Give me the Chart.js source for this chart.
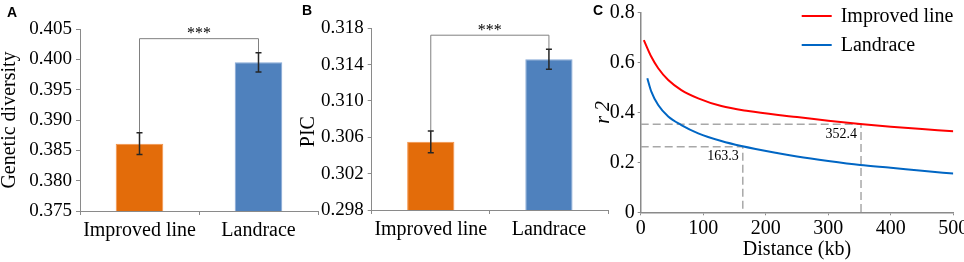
<!DOCTYPE html>
<html><head><meta charset="utf-8">
<script src="https://cdn.jsdelivr.net/npm/chart.js@4.4.1/dist/chart.umd.min.js"></script>
<style>
html,body{margin:0;padding:0;background:#fff;overflow:hidden;width:964px;height:262px}
.p{position:absolute;top:0;height:262px}
.lbl{position:absolute;font:bold 14px "Liberation Sans",Arial,sans-serif;line-height:14px;color:#000}
</style></head><body>
<div class="p" style="left:0;width:330px"><canvas id="cA" width="330" height="262"></canvas></div>
<div class="p" style="left:290px;width:330px"><canvas id="cB" width="330" height="262"></canvas></div>
<div class="p" style="left:590px;width:374px"><canvas id="cC" width="374" height="262"></canvas></div>
<div class="lbl" style="left:7px;top:5px">A</div>
<div class="lbl" style="left:302px;top:3px">B</div>
<div class="lbl" style="left:593px;top:3px">C</div>
<script>
// ---- data ----
const categories = ['Improved line', 'Landrace'];
const gdValues = [0.3861, 0.3995];
const gdErrors = [0.0018, 0.0016];
const picValues = [0.3055, 0.3146];
const picErrors = [0.0012, 0.0011];
const significance = '***';

const improvedDist = [5, 17, 28, 44, 65, 92, 129, 172, 220, 250, 300, 351, 400, 450, 500];
const improvedR2   = [0.689, 0.622, 0.576, 0.529, 0.489, 0.456, 0.425, 0.405, 0.389, 0.381, 0.366, 0.353, 0.342, 0.333, 0.324];
const landraceDist = [10.6, 17, 28, 44, 65, 92, 129, 161, 220, 250, 300, 351, 400, 450, 500];
const landraceR2   = [0.536, 0.483, 0.429, 0.383, 0.349, 0.316, 0.285, 0.265, 0.236, 0.223, 0.205, 0.189, 0.178, 0.166, 0.155];
const decayDist = [352.4, 163.3];
const decayR2   = [0.352, 0.262];

// ---- styles ----
const SERIF = '"Liberation Serif","Times New Roman",serif';
const AXIS = '#8a8a8a';
const ORANGE = '#e36c0a', ORANGE_B = '#f4934a';
const BLUE = '#4f81bd', BLUE_B = '#86a8d6';

function fixY(w){ return s => { s.width = w; s.paddingTop = 0; s.paddingBottom = 0; }; }
function fixX(h){ return s => { s.height = h; s.paddingLeft = 0; s.paddingRight = 0; }; }

const errPlugin = {
  id: 'err',
  afterDatasetsDraw(chart, args, o) {
    const {ctx} = chart; const x = chart.scales.x, y = chart.scales.y;
    const xs = o.values.map((v, i) => x.getPixelForValue(i));
    const tops = o.values.map((v, i) => y.getPixelForValue(v + o.errors[i]));
    const bots = o.values.map((v, i) => y.getPixelForValue(v - o.errors[i]));
    const by = Math.min(...tops) - o.gap;
    ctx.save();
    ctx.strokeStyle = '#808080'; ctx.lineWidth = 1;
    ctx.beginPath();
    ctx.moveTo(xs[0], tops[0]); ctx.lineTo(xs[0], by); ctx.lineTo(xs[1], by); ctx.lineTo(xs[1], tops[1]);
    ctx.stroke();
    ctx.fillStyle = '#000'; ctx.font = '16px ' + SERIF; ctx.textAlign = 'center'; ctx.textBaseline = 'alphabetic';
    ctx.fillText(o.sig, (xs[0] + xs[1]) / 2, by - 0.5);
    ctx.strokeStyle = '#262626'; ctx.lineWidth = 1.5;
    xs.forEach((px, i) => {
      ctx.beginPath();
      ctx.moveTo(px, tops[i]); ctx.lineTo(px, bots[i]);
      ctx.moveTo(px - 3, tops[i]); ctx.lineTo(px + 3, tops[i]);
      ctx.moveTo(px - 3, bots[i]); ctx.lineTo(px + 3, bots[i]);
      ctx.stroke();
    });
    ctx.restore();
  }
};

function barChart(id, values, errors, yMin, yMax, step, labelEvery, title, yW, pad, xH) {
  return new Chart(document.getElementById(id), {
    type: 'bar',
    data: { labels: categories, datasets: [{
      data: values,
      backgroundColor: [ORANGE, BLUE], borderColor: [ORANGE_B, BLUE_B], borderWidth: 1,
      categoryPercentage: 1, barPercentage: 0.4
    }]},
    options: {
      responsive: false, animation: false,
      layout: { padding: pad },
      plugins: { legend: { display: false }, tooltip: { enabled: false },
        err: { values: values, errors: errors, gap: 14, sig: significance } },
      scales: {
        x: {
          afterFit: fixX(xH),
          grid: { drawOnChartArea: false, color: AXIS, tickLength: 4 },
          border: { color: AXIS, width: 1 },
          ticks: { color: '#000', font: { family: SERIF, size: 20 }, padding: 4,
            maxRotation: 0, minRotation: 0, autoSkip: false }
        },
        y: {
          min: yMin, max: yMax,
          afterFit: fixY(yW),
          grid: { drawOnChartArea: false, color: AXIS, tickLength: 4 },
          border: { color: AXIS, width: 1 },
          ticks: { stepSize: step, color: '#000', font: { family: SERIF, size: 19 }, padding: 4,
            callback: (v, i) => (i % labelEvery === 0 ? Number(v).toFixed(3) : '') },
          title: { display: true, text: title, color: '#000', font: { family: SERIF, size: 20, lineHeight: 1 }, padding: pad.titlePad }
        }
      }
    },
    plugins: [errPlugin]
  });
}

barChart('cA', gdValues, gdErrors, 0.375, 0.405, 0.005, 1, 'Genetic diversity', 80,
  { left: 0, right: 12, top: 29, bottom: 0, titlePad: { top: 0, bottom: 0 } }, 51);
barChart('cB', picValues, picErrors, 0.298, 0.318, 0.002, 2, 'PIC     ', 81.7,
  { left: 0, right: 12, top: 28.3, bottom: 0, titlePad: { top: 9, bottom: 0 } }, 52);

// ---- panel C ----
const pts = (xs, ys) => xs.map((v, i) => ({ x: v, y: ys[i] }));
const dashSets = decayDist.map((d, i) => ({
  label: 'ref' + i,
  data: [{ x: 0, y: decayR2[i] }, { x: d, y: decayR2[i] }, { x: d, y: 0 }],
  borderColor: '#a8a8a8', borderWidth: 1.5, borderDash: [8, 4], pointRadius: 0, tension: 0, fill: false
}));

const cPlugin = {
  id: 'cExtra',
  afterDatasetsDraw(chart) {
    const {ctx} = chart; const x = chart.scales.x, y = chart.scales.y;
    ctx.save();
    ctx.font = '14px ' + SERIF; ctx.fillStyle = '#000'; ctx.textAlign = 'right'; ctx.textBaseline = 'middle';
    decayDist.forEach((d, i) => {
      ctx.fillText(d.toFixed(1), x.getPixelForValue(d) - 4, y.getPixelForValue(decayR2[i]) + 10);
    });
    ctx.font = '20px ' + SERIF; ctx.textAlign = 'left';
    chart.data.datasets.slice(0, 2).forEach((ds, i) => {
      const ly = 16 + i * 29;
      ctx.strokeStyle = ds.borderColor; ctx.lineWidth = 2;
      ctx.beginPath(); ctx.moveTo(211.7, ly); ctx.lineTo(241.7, ly); ctx.stroke();
      ctx.fillText(ds.label, 250.7, ly + 1);
    });
    ctx.restore();
  }
};

new Chart(document.getElementById('cC'), {
  type: 'line',
  data: { datasets: [
    { label: 'Improved line', data: pts(improvedDist, improvedR2), borderColor: '#ff0000', borderWidth: 2,
      pointRadius: 0, cubicInterpolationMode: 'monotone', fill: false },
    { label: 'Landrace', data: pts(landraceDist, landraceR2), borderColor: '#0066c4', borderWidth: 2,
      pointRadius: 0, cubicInterpolationMode: 'monotone', fill: false },
    ...dashSets
  ]},
  options: {
    responsive: false, animation: false,
    layout: { padding: { left: 0, right: 10.7, top: 12.3, bottom: 0 } },
    plugins: { legend: { display: false }, tooltip: { enabled: false } },
    scales: {
      x: {
        type: 'linear', min: 0, max: 500,
        afterFit: fixX(49.7),
        grid: { drawOnChartArea: false, color: AXIS, tickLength: 3 },
        border: { color: AXIS, width: 1.5 },
        ticks: { stepSize: 100, color: '#000', font: { family: SERIF, size: 20 }, padding: 1, maxRotation: 0 },
        title: { display: true, text: 'Distance (kb)', color: '#000', font: { family: SERIF, size: 20, lineHeight: 1.2 }, padding: { top: 0, bottom: 0 } }
      },
      y: {
        min: 0, max: 0.8,
        afterFit: fixY(50.7),
        grid: { drawOnChartArea: false, color: AXIS, tickLength: 3 },
        border: { color: AXIS, width: 1.5 },
        ticks: { stepSize: 0.1, color: '#000', font: { family: SERIF, size: 20 }, padding: 3,
          callback: (v, i) => (i % 2 === 0 ? (v === 0 ? '0' : Number(v).toFixed(1)) : '') },
        title: { display: true, text: 'r 2', color: '#000', font: { family: SERIF, size: 20, style: 'italic', lineHeight: 1 }, padding: { top: 4, bottom: 0 } }
      }
    }
  },
  plugins: [cPlugin]
});
</script>
</body></html>
